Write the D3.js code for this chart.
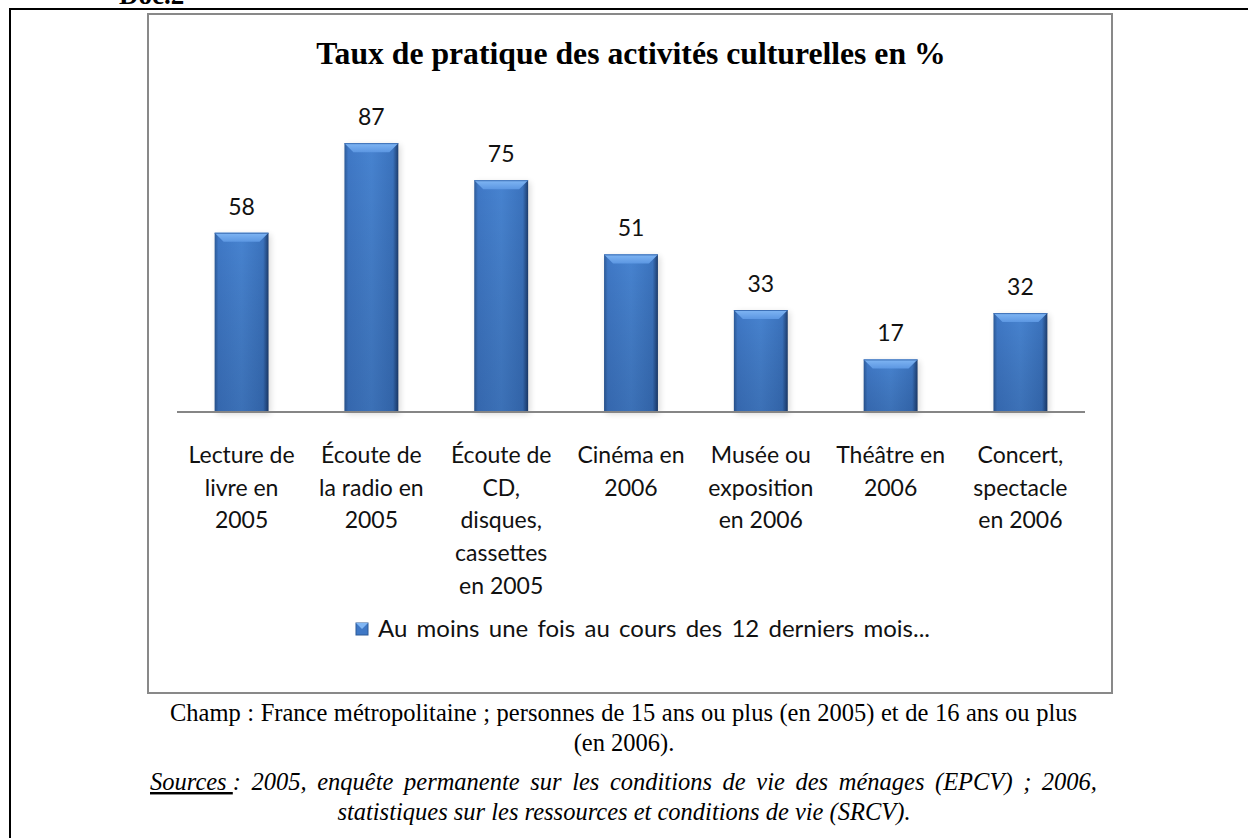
<!DOCTYPE html>
<html>
<head>
<meta charset="utf-8">
<script src="https://d3js.org/d3.v7.min.js"></script>
<style>
  body { margin: 0; background: #fff; }
  svg { display: block; }
</style>
</head>
<body>
<svg width="1248" height="838"></svg>
<script>
// values
var categories = ["Lecture de livre en 2005", "Écoute de la radio en 2005", "Écoute de CD, disques, cassettes en 2005",
                  "Cinéma en 2006", "Musée ou exposition en 2006", "Théâtre en 2006", "Concert, spectacle en 2006"];
var labelLines = [["Lecture de", "livre en", "2005"],
                  ["Écoute de", "la radio en", "2005"],
                  ["Écoute de", "CD,", "disques,", "cassettes", "en 2005"],
                  ["Cinéma en", "2006"],
                  ["Musée ou", "exposition", "en 2006"],
                  ["Théâtre en", "2006"],
                  ["Concert,", "spectacle", "en 2006"]];
var values = [58, 87, 75, 51, 33, 17, 32];
var seriesName = "Au moins une fois au cours des 12 derniers mois...";
var title = "Taux de pratique des activités culturelles en %";
var caption1 = ["Champ : France métropolitaine ; personnes de 15 ans ou plus (en 2005) et de 16 ans ou plus", "(en 2006)."];
var sourcesLines = ["2005, enquête permanente sur les conditions de vie des ménages (EPCV) ; 2006,",
                    "statistiques sur les ressources et conditions de vie (SRCV)."];

var svg = d3.select("svg");
var labelFont = "Lato, 'Open Sans', sans-serif";
var serif = "'Liberation Serif', 'Times New Roman', serif";

// widen the spaces of a text so that it fills the given width (justified line)
function justify(sel, target) {
  var node = sel.node(), w = node.getComputedTextLength();
  var n = (node.textContent.match(/ /g) || []).length;
  if (n && target > w) sel.attr("word-spacing", (target - w) / n);
}

// page frame
svg.append("text").attr("x", 119).attr("y", 4)
    .attr("font-family", serif).attr("font-weight", "bold").attr("font-size", 27)
    .text("Doc.2");
svg.append("path").attr("d", "M10,838V9H1248").attr("fill", "none")
    .attr("stroke", "#000").attr("stroke-width", 2);

// chart box
svg.append("rect").attr("x", 148).attr("y", 14).attr("width", 964).attr("height", 679)
    .attr("fill", "#fff").attr("stroke", "#898989").attr("stroke-width", 2);

svg.append("text").attr("x", 631).attr("y", 64).attr("text-anchor", "middle")
    .attr("font-family", serif).attr("font-weight", "bold").attr("font-size", 31.7)
    .text(title);

var x = d3.scaleBand().domain(categories).range([177, 1085])
    .paddingInner(0.585).paddingOuter(0.29);
var y = d3.scaleLinear().domain([0, 100]).range([412, 103]);

// gradients
var defs = svg.append("defs");
var hg = defs.append("linearGradient").attr("id", "barH");
[["0%", "#2c5a98"], ["7%", "#3f78c6"], ["50%", "#4783d0"], ["90%", "#3b73be"], ["100%", "#1d3d6e"]]
  .forEach(function(s) { hg.append("stop").attr("offset", s[0]).attr("stop-color", s[1]); });
var vg = defs.append("linearGradient").attr("id", "barV").attr("x2", 0).attr("y2", 1);
vg.append("stop").attr("offset", "0%").attr("stop-color", "#000").attr("stop-opacity", 0);
vg.append("stop").attr("offset", "100%").attr("stop-color", "#001030").attr("stop-opacity", 0.16);
var tg = defs.append("linearGradient").attr("id", "bevel").attr("x2", 0).attr("y2", 1);
tg.append("stop").attr("offset", "0%").attr("stop-color", "#80b6f4");
tg.append("stop").attr("offset", "100%").attr("stop-color", "#5c97e2");
var sh = defs.append("filter").attr("id", "shadow").attr("x", "-30%").attr("y", "-10%")
    .attr("width", "160%").attr("height", "130%");
sh.append("feGaussianBlur").attr("stdDeviation", 3);

var bars = svg.append("g").selectAll("g").data(values).join("g")
    .attr("transform", function(d, i) { return "translate(" + x(categories[i]) + ",0)"; });
var bw = x.bandwidth();

bars.append("rect").attr("x", 2).attr("y", function(d) { return y(d) + 2; })
    .attr("width", bw).attr("height", function(d) { return y(0) - y(d); })
    .attr("fill", "#000").attr("opacity", 0.15).attr("filter", "url(#shadow)");
bars.append("rect").attr("x", 0).attr("y", function(d) { return y(d); })
    .attr("width", bw).attr("height", function(d) { return y(0) - y(d); })
    .attr("fill", "url(#barH)");
bars.append("rect").attr("x", 0).attr("y", function(d) { return y(d); })
    .attr("width", bw).attr("height", function(d) { return y(0) - y(d); })
    .attr("fill", "url(#barV)");
bars.append("path")
    .attr("d", function(d) {
      var t = y(d);
      return "M0," + t + "H" + bw + "L" + (bw - 9) + "," + (t + 9) + "H9Z";
    })
    .attr("fill", "url(#bevel)");
bars.append("line").attr("x1", 0).attr("x2", bw)
    .attr("y1", function(d) { return y(d) + 0.5; }).attr("y2", function(d) { return y(d) + 0.5; })
    .attr("stroke", "#3c6fb5").attr("stroke-width", 1);

// value labels
bars.append("text").attr("x", bw / 2).attr("y", function(d) { return y(d) - 18; })
    .attr("text-anchor", "middle").attr("font-family", labelFont).attr("font-size", 23)
    .attr("fill", "#111").text(function(d) { return d; });

// axis
svg.append("line").attr("x1", 177).attr("x2", 1085).attr("y1", 412).attr("y2", 412)
    .attr("stroke", "#868686").attr("stroke-width", 2);

// category labels
svg.append("g").selectAll("text").data(categories).join("text")
    .attr("font-family", labelFont).attr("font-size", 23).attr("fill", "#111")
    .attr("text-anchor", "middle")
    .each(function(c, i) {
      d3.select(this).selectAll("tspan").data(labelLines[i]).join("tspan")
        .attr("x", x(c) + bw / 2)
        .attr("y", function(l, j) { return 463 + j * 32.7; })
        .text(function(l) { return l; });
    });

// legend
svg.append("rect").attr("x", 356).attr("y", 623).attr("width", 12).attr("height", 12)
    .attr("fill", "#3f78c6").attr("stroke", "#2c5a98");
svg.append("path").attr("d", "M356,623H368L362,629Z").attr("fill", "#80b6f4");
var leg = svg.append("text").attr("x", 378).attr("y", 637)
    .attr("font-family", labelFont).attr("font-size", 24).attr("fill", "#111")
    .text(seriesName);
justify(leg, 552);

// caption below the chart (justified lines)
var c1 = svg.append("text").attr("x", 170).attr("y", 721)
    .attr("font-family", serif).attr("font-size", 24.5)
    .text(caption1[0]);
justify(c1, 907);
svg.append("text").attr("x", 624).attr("y", 751).attr("text-anchor", "middle")
    .attr("font-family", serif).attr("font-size", 24.5)
    .text(caption1[1]);

var srcA = svg.append("text").attr("x", 150).attr("y", 790)
    .attr("font-family", serif).attr("font-size", 24.5).attr("font-style", "italic")
    .attr("text-decoration", "underline").style("white-space", "pre")
    .text("Sources ");
var srcAw = srcA.node().getComputedTextLength();
var srcB = svg.append("text").attr("x", 150 + srcAw).attr("y", 790)
    .attr("font-family", serif).attr("font-size", 24.5).attr("font-style", "italic")
    .text(": " + sourcesLines[0]);
justify(srcB, 947 - srcAw);
svg.append("text").attr("x", 624).attr("y", 820).attr("text-anchor", "middle")
    .attr("font-family", serif).attr("font-size", 24.5).attr("font-style", "italic")
    .text(sourcesLines[1]);
</script>
</body>
</html>
